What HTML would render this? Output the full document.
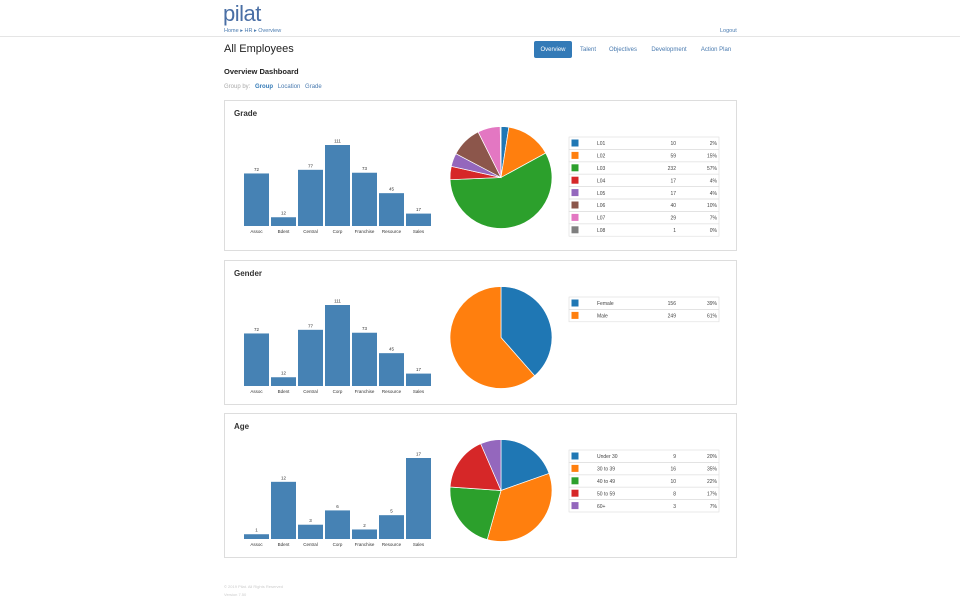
<!DOCTYPE html>
<html><head><meta charset="utf-8">
<style>
body{margin:0;width:960px;height:600px;background:#fff;font-family:"Liberation Sans",sans-serif;position:relative;overflow:hidden}
.a{position:absolute;white-space:nowrap}
.panel{position:absolute;left:224px;width:511px;border:1px solid #ddd;background:#fff}
.nav{position:absolute;top:41px;height:17px;font-size:6px;color:#4a7bb0;display:flex;align-items:center;justify-content:center}
</style></head><body>
<div class="a" style="left:223px;top:1px;font-size:22px;color:#4a6fa5;letter-spacing:-0.5px">pilat</div>
<div class="a" style="left:224px;top:28px;font-size:5.5px;color:#4a7bb0">Home ▸ HR ▸ Overview</div>
<div class="a" style="left:720px;top:28px;font-size:5.5px;color:#4a7bb0">Logout</div>
<div class="a" style="left:0;top:36px;width:960px;height:1px;background:#e5e5e5"></div>
<div class="a" style="left:224px;top:43px;font-size:11px;color:#222">All Employees</div>
<div class="nav" style="left:534px;width:38px;background:#337ab7;color:#fff;border-radius:2px">Overview</div>
<div class="nav" style="left:576px;width:24px">Talent</div>
<div class="nav" style="left:606px;width:34px">Objectives</div>
<div class="nav" style="left:647px;width:44px">Development</div>
<div class="nav" style="left:696px;width:40px">Action Plan</div>
<div class="a" style="left:224px;top:67px;font-size:7.5px;font-weight:bold;color:#222">Overview Dashboard</div>
<div class="a" style="left:224px;top:84px;font-size:6px;color:#aaa">Group by: <b style="color:#337ab7;margin-left:3px">Group</b> <span style="color:#4a7bb0;margin-left:3px">Location</span> <span style="color:#4a7bb0;margin-left:3px">Grade</span></div>
<div id="root"></div>
<div class="a" style="left:224px;top:584px;font-size:4px;color:#ccc">© 2019 Pilat. All Rights Reserved</div>
<div class="a" style="left:224px;top:592px;font-size:4px;color:#ccc">Version 7.50</div>
<script>
const barCategories=["Assoc","Bdent","Central","Corp","Franchise","Resource","Sales"];
const gradeBarValues=[72,12,77,111,73,45,17];
const genderBarValues=[72,12,77,111,73,45,17];
const ageBarValues=[1,12,3,6,2,5,17];
const gradeLabels=["L01","L02","L03","L04","L05","L06","L07","L08"];
const gradeCounts=[10,59,232,17,17,40,29,1];
const gradePcts=["2%","15%","57%","4%","4%","10%","7%","0%"];
const genderLabels=["Female","Male"];
const genderCounts=[156,249];
const genderPcts=["39%","61%"];
const ageLabels=["Under 30","30 to 39","40 to 49","50 to 59","60+"];
const ageCounts=[9,16,10,8,3];
const agePcts=["20%","35%","22%","17%","7%"];
const colors=["#1f77b4","#ff7f0e","#2ca02c","#d62728","#9467bd","#8c564b","#e377c2","#7f7f7f"];
const NS="http://www.w3.org/2000/svg";
function mk(t,a,p){const e=document.createElementNS(NS,t);for(const k in a)e.setAttribute(k,a[k]);p.appendChild(e);return e;}
function panel(name,title,top,h,bars,labels,counts,pcts){
  const d=document.createElement('div');d.className='panel';
  
  
  d.style.top=top+'px';d.style.height=h+'px';
  document.getElementById('root').appendChild(d);
  const svg=mk('svg',{width:511,height:h},d);
  const t=mk('text',{x:9,y:15,'font-size':8,'font-weight':'bold',fill:'#333'},svg);t.textContent=title;
  
  
  const base=125,maxH=81,x0=19,step=27,bw=25;
  const mx=Math.max(...bars);
  const y=v=>base-v/mx*maxH;
  bars.forEach((v,i)=>{
    const r=mk('rect',{x:x0+i*step,y:y(v),width:bw,height:base-y(v),fill:'#4682b4'},svg);
    
    
    const vt=mk('text',{x:x0+i*step+bw/2,y:y(v)-2.5,'font-size':4.5,'text-anchor':'middle',fill:'#333'},svg);vt.textContent=v;
    
    
    const ct=mk('text',{x:x0+i*step+bw/2,y:base+7,'font-size':4.5,'text-anchor':'middle',fill:'#333'},svg);ct.textContent=barCategories[i];
    
    
  });
  const cx=276,cy=76.5,R=51,tot=counts.reduce((a,b)=>a+b,0);let a0=-Math.PI/2;
  counts.forEach((c,i)=>{
    const a1=a0+c/tot*2*Math.PI;
    const x1=cx+R*Math.cos(a0),y1=cy+R*Math.sin(a0),x2=cx+R*Math.cos(a1),y2=cy+R*Math.sin(a1);
    const large=(a1-a0)>Math.PI?1:0;
    const p=mk('path',{d:`M${cx},${cy}L${x1},${y1}A${R},${R} 0 ${large} 1 ${x2},${y2}Z`,fill:colors[i],stroke:'#fff','stroke-width':0.7},svg);
    
    
    a0=a1;
  });
  const lx=344,ly=36,rh=12.4,lw=150;
  labels.forEach((l,i)=>{
    const ry=ly+i*rh;
    const g=mk('g',{},svg);
    
    
    mk('rect',{x:lx,y:ry,width:lw,height:rh,fill:'none',stroke:'#ddd','stroke-width':0.6},g);
    mk('rect',{x:lx+2.5,y:ry+2.5,width:7,height:7,fill:colors[i]},g);
    const a=mk('text',{x:lx+28,y:ry+8.2,'font-size':5,fill:'#444'},g);a.textContent=l;
    const b=mk('text',{x:lx+107,y:ry+8.2,'font-size':5,fill:'#444','text-anchor':'end'},g);b.textContent=counts[i];
    const c=mk('text',{x:lx+148,y:ry+8.2,'font-size':5,fill:'#444','text-anchor':'end'},g);c.textContent=pcts[i];
  });
}
panel('grade','Grade',100,149,gradeBarValues,gradeLabels,gradeCounts,gradePcts);
panel('gender','Gender',260,143,genderBarValues,genderLabels,genderCounts,genderPcts);
panel('age','Age',413,143,ageBarValues,ageLabels,ageCounts,agePcts);
</script>
</body></html>
